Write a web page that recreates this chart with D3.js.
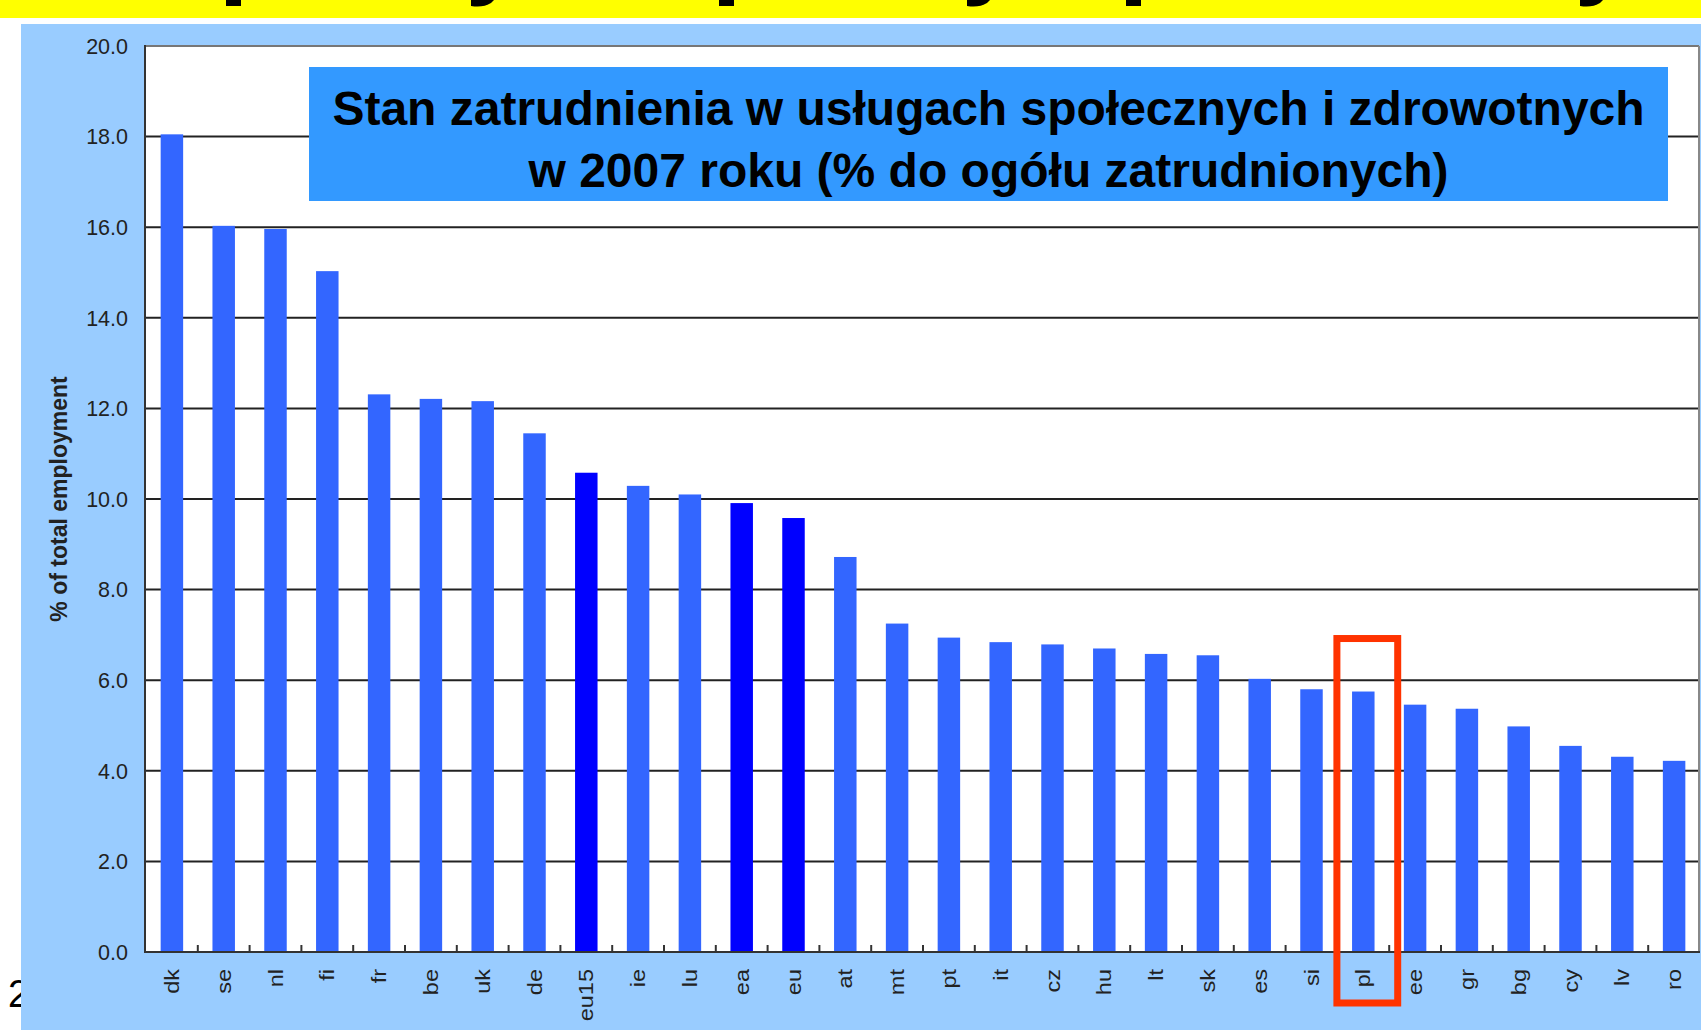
<!DOCTYPE html>
<html>
<head>
  <meta charset="utf-8">
  <title>Stan zatrudnienia w usługach społecznych i zdrowotnych</title>
  <script src="https://cdn.jsdelivr.net/npm/d3@7"></script>
  <style type="text/css">
  body { margin: 0; background: #fff; }
  svg { display: block; font-family: "Liberation Sans", Arial, sans-serif; }
  .grid line { stroke: #222; stroke-width: 2; }
  .grid line.top { stroke: #777; }
  .tick-label { fill: #222; font-size: 21.5px; }
  .cat-label { fill: #222; font-size: 21px; }
  .title { font-size: 48px; font-weight: bold; fill: #000; }
  </style>
</head>
<body>
<div id="chart"></div>
<script>
var width = 1701,
    height = 1030;

// data (% of total employment, 2007)
var countries = ["dk", "se", "nl", "fi", "fr", "be", "uk", "de", "eu15", "ie",
                 "lu", "ea", "eu", "at", "mt", "pt", "it", "cz", "hu", "lt",
                 "sk", "es", "si", "pl", "ee", "gr", "bg", "cy", "lv", "ro"];
var shares = [18.05, 16.03, 15.96, 15.03, 12.31, 12.21, 12.16, 11.45, 10.58, 10.29,
              10.10, 9.91, 9.58, 8.72, 7.25, 6.94, 6.84, 6.79, 6.70, 6.58,
              6.55, 6.03, 5.80, 5.75, 5.46, 5.37, 4.98, 4.55, 4.31, 4.22];
var aggregates = ["eu15", "ea", "eu"];
var yTicks = [0, 2, 4, 6, 8, 10, 12, 14, 16, 18, 20];
var highlighted = "pl";
var titleLines = ["Stan zatrudnienia w usługach społecznych i zdrowotnych",
                  "w 2007 roku (% do ogółu zatrudnionych)"];

var svg = d3.select("#chart").append("svg")
            .attr("width", width)
            .attr("height", height);

/* slide decorations: cut-off heading on yellow, page number */
svg.append("rect")
   .attr("x", 0).attr("y", 0)
   .attr("width", width).attr("height", 18)
   .attr("fill", "#ffff00");

// descenders of the heading that is cut off above the picture
var stems = [226, 719, 1126],
    hooks = [471, 967, 1580];
svg.selectAll(".stem").data(stems)
   .enter().append("rect")
   .attr("class", "stem")
   .attr("x", function(d) { return d; })
   .attr("y", 0).attr("width", 15).attr("height", 6)
   .attr("fill", "#000");
svg.selectAll(".hook").data(hooks)
   .enter().append("path")
   .attr("class", "hook")
   .attr("d", function(d) {
     return "M" + d + ",0 L" + d + ",6 Q" + (d + 12) + ",8 " + (d + 20) + ",3 L" + (d + 23) + ",0 Z";
   })
   .attr("fill", "#000");

svg.append("text")
   .attr("x", 8).attr("y", 1007)
   .attr("font-size", 38)
   .attr("fill", "#000")
   .text("2");

svg.append("rect")
   .attr("x", 21).attr("y", 24)
   .attr("width", width - 21).attr("height", height - 24)
   .attr("fill", "#99ccff");

/* plot area */
var x = d3.scaleBand()
          .domain(countries)
          .range([146, 1700])
          .paddingInner(0.566)
          .paddingOuter(0.283);

var y = d3.scaleLinear()
          .domain([0, 20])
          .range([952, 46]);

var step = x.step();

svg.append("rect")
   .attr("x", x.range()[0]).attr("y", y(20))
   .attr("width", x.range()[1] - x.range()[0] - 1)
   .attr("height", y(0) - y(20))
   .attr("fill", "#fff");

var grid = svg.append("g").attr("class", "grid");
grid.selectAll("line")
    .data(yTicks.filter(function(d) { return d > 0; }))
    .enter().append("line")
    .attr("class", function(d) { return d === 20 ? "top" : null; })
    .attr("x1", x.range()[0]).attr("x2", x.range()[1] - 1)
    .attr("y1", function(d) { return y(d); })
    .attr("y2", function(d) { return y(d); });

// right frame of the plot
svg.append("line")
   .attr("x1", x.range()[1] - 1).attr("x2", x.range()[1] - 1)
   .attr("y1", y(20)).attr("y2", y(0))
   .attr("stroke", "#888").attr("stroke-width", 2);

svg.append("g").selectAll("rect")
   .data(countries)
   .enter().append("rect")
   .attr("x", function(d) { return x(d); })
   .attr("width", x.bandwidth())
   .attr("y", function(d, i) { return y(shares[i]); })
   .attr("height", function(d, i) { return y(0) - y(shares[i]); })
   .attr("fill", function(d) {
     return aggregates.indexOf(d) != -1 ? "#0000ff" : "#3366ff";
   });

/* axes */
svg.append("line")
   .attr("x1", x.range()[0] - 1).attr("x2", x.range()[0] - 1)
   .attr("y1", y(20) - 1).attr("y2", y(0) + 1)
   .attr("stroke", "#333").attr("stroke-width", 2);

svg.append("line")
   .attr("x1", x.range()[0] - 1).attr("x2", x.range()[1])
   .attr("y1", y(0)).attr("y2", y(0))
   .attr("stroke", "#333").attr("stroke-width", 2);

// small inward ticks between the categories
svg.append("g").selectAll("line")
   .data(countries.slice(1))
   .enter().append("line")
   .attr("x1", function(d) { return x(d) - x.paddingOuter() * step; })
   .attr("x2", function(d) { return x(d) - x.paddingOuter() * step; })
   .attr("y1", y(0)).attr("y2", y(0) - 7)
   .attr("stroke", "#333").attr("stroke-width", 2);

svg.append("g").selectAll("text")
   .data(yTicks)
   .enter().append("text")
   .attr("class", "tick-label")
   .attr("x", 128)
   .attr("y", function(d) { return y(d); })
   .attr("dy", "0.36em")
   .attr("text-anchor", "end")
   .text(d3.format(".1f"));

// the original is stretched vertically, so the turned labels run a bit longer
svg.append("g").selectAll("text")
   .data(countries)
   .enter().append("text")
   .attr("class", "cat-label")
   .attr("transform", function(d) {
     return "translate(" + (x(d) + x.bandwidth() / 2 + 7) + "," + (y(0) + 17) + ") rotate(-90) scale(1.12,1)";
   })
   .attr("text-anchor", "end")
   .text(String);

svg.append("text")
   .attr("transform", "translate(67," + ((y(20) + y(0)) / 2) + ") rotate(-90)")
   .attr("text-anchor", "middle")
   .attr("font-size", 23)
   .attr("font-weight", "bold")
   .attr("fill", "#222")
   .text("% of total employment");

/* red frame around Poland */
svg.append("rect")
   .attr("x", x(highlighted) - x.paddingOuter() * step - 0.5)
   .attr("y", y(6.92))
   .attr("width", step + 9)
   .attr("height", y(0) + 51 - y(6.92))
   .attr("fill", "none")
   .attr("stroke", "#ff3300")
   .attr("stroke-width", 7);

/* title box */
svg.append("rect")
   .attr("x", 309).attr("y", 67)
   .attr("width", 1359).attr("height", 134)
   .attr("fill", "#3399ff");

svg.append("g").selectAll("text")
   .data(titleLines)
   .enter().append("text")
   .attr("class", "title")
   .attr("x", 988.5)
   .attr("y", function(d, i) { return 125 + i * 62; })
   .attr("text-anchor", "middle")
   .text(String);
</script>
</body>
</html>
